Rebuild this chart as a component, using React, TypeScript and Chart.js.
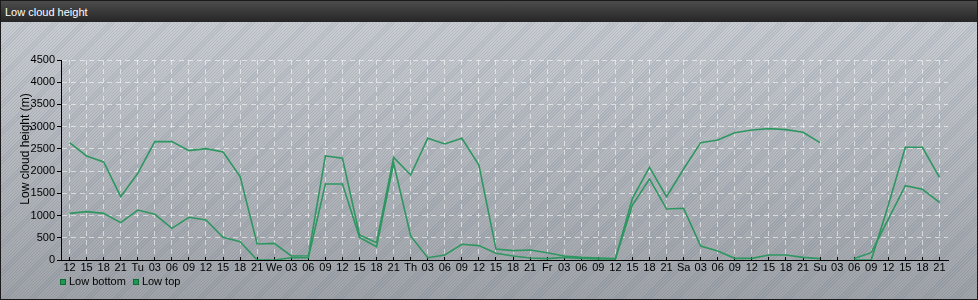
import React, { useEffect, useRef } from 'react';
import { Chart, registerables } from 'chart.js';

Chart.register(...registerables);

const labels = [
  '12', '15', '18', '21',
  'Tu', '03', '06', '09', '12', '15', '18', '21',
  'We', '03', '06', '09', '12', '15', '18', '21',
  'Th', '03', '06', '09', '12', '15', '18', '21',
  'Fr', '03', '06', '09', '12', '15', '18', '21',
  'Sa', '03', '06', '09', '12', '15', '18', '21',
  'Su', '03', '06', '09', '12', '15', '18', '21',
];

const lowBottom: (number | null)[] = [
  1050, 1088, 1050, 840,
  1125, 1028, 713, 960, 900, 510, 413, 0,
  0, 52, 52, 1710, 1710, 510, 300, 2175,
  540, 52, 112, 353, 323, 150, 90, 45,
  30, 60, 37, 22, 25, 1238, 1823, 1148,
  1163, 315, 203, 37, 37, 112, 112, 60,
  30, null, 35, 165, 920, 1673, 1590, 1297,
];

const lowTop: (number | null)[] = [
  2640, 2340, 2205, 1425,
  1950, 2663, 2663, 2460, 2505, 2430, 1875, 360,
  375, 90, 95, 2340, 2288, 563, 390, 2310,
  1913, 2738, 2610, 2738, 2138, 248, 210, 225,
  165, 90, 60, 45, 30, 1388, 2085, 1425,
  2048, 2640, 2700, 2865, 2925, 2955, 2933, 2873,
  2640, null, 0, 0, 1230, 2536, 2536, 1860,
];

const yMin = 0;
const yMax = 4500;
const yStep = 500;
const yTitle = 'Low cloud height (m)';

const LINE = 'rgb(46,150,96)';
const FONT = '"Liberation Sans", Arial, sans-serif';

const yTitlePlugin = {
  id: 'yTitleCentered',
  afterDraw(chart: any) {
    const ctx = chart.ctx;
    ctx.save();
    ctx.translate(26, chart.height / 2 - 1);
    ctx.rotate(-Math.PI / 2);
    ctx.font = '12px ' + FONT;
    ctx.fillStyle = '#000';
    ctx.textAlign = 'center';
    ctx.textBaseline = 'middle';
    ctx.fillText(yTitle, 0, 0);
    ctx.restore();
  },
};

export default function App() {
  const ref = useRef<HTMLCanvasElement>(null);

  useEffect(() => {
    const canvas = ref.current!;
    const chart = new Chart(canvas, {
      type: 'line',
      data: {
        labels,
        datasets: [
          {
            label: 'Low bottom',
            data: lowBottom,
            borderColor: LINE,
            backgroundColor: LINE,
            borderWidth: 1.6,
            pointRadius: 0,
            tension: 0,
            spanGaps: false,
          },
          {
            label: 'Low top',
            data: lowTop,
            borderColor: LINE,
            backgroundColor: LINE,
            borderWidth: 1.6,
            pointRadius: 0,
            tension: 0,
            spanGaps: false,
          },
        ],
      },
      options: {
        animation: false,
        responsive: false,
        maintainAspectRatio: false,
        layout: { padding: { top: 38, right: 30, left: 0, bottom: 0 } },
        plugins: {
          legend: { display: false },
          tooltip: { enabled: false },
        },
        scales: {
          x: {
            offset: true,
            grid: {
              offset: false,
              color: 'rgba(255,255,255,0.55)',
              lineWidth: 1,
              tickColor: '#000',
              tickLength: -3,
              tickBorderDash: [],
            },
            border: { color: '#000', width: 1, dash: [5, 4] },
            ticks: {
              autoSkip: false,
              maxRotation: 0,
              minRotation: 0,
              color: '#000',
              padding: 4,
              font: { family: FONT, size: 11 },
            },
            afterFit: (s: any) => {
              s.height = 18;
            },
          },
          y: {
            min: yMin,
            max: yMax,
            ticks: {
              stepSize: yStep,
              color: '#000',
              padding: 2,
              font: { family: FONT, size: 11 },
              callback: (v: any) => String(v),
            },
            grid: {
              color: 'rgba(255,255,255,0.55)',
              lineWidth: 1,
              tickColor: '#000',
              tickLength: 4,
              tickBorderDash: [],
            },
            border: { color: '#000', width: 1, dash: [5, 4] },
            title: { display: false },
            afterFit: (s: any) => {
              s.width = 61;
            },
          },
        },
      },
      plugins: [yTitlePlugin],
    });
    return () => chart.destroy();
  }, []);

  return (
    <div
      style={{
        position: 'absolute',
        left: 0,
        top: 0,
        width: 978,
        height: 300,
        overflow: 'hidden',
        fontFamily: FONT,
        background:
          'repeating-linear-gradient(135deg, rgba(60,80,115,0.14) 0px, rgba(60,80,115,0.14) 1px, rgba(0,0,0,0) 1px, rgba(0,0,0,0) 2.2px), linear-gradient(#cdd1d5, #a0a4a8)',
      }}
    >
      <div
        style={{
          position: 'absolute',
          left: 0,
          top: 0,
          width: 978,
          height: 22,
          boxSizing: 'border-box',
          paddingLeft: 5,
          paddingTop: 1,
          lineHeight: '22px',
          fontSize: 11,
          color: '#fff',
          background: 'linear-gradient(#4e4e4e, #262626)',
        }}
      >
        Low cloud height
      </div>
      <canvas
        ref={ref}
        width={978}
        height={256}
        style={{ position: 'absolute', left: 0, top: 22, width: 978, height: 256, display: 'block' }}
      />
      <div
        style={{
          position: 'absolute',
          left: 60,
          top: 275,
          display: 'flex',
          alignItems: 'center',
          fontSize: 11,
          lineHeight: '13px',
          color: '#000',
        }}
      >
        {['Low bottom', 'Low top'].map((t, i) => (
          <div key={t} style={{ display: 'flex', alignItems: 'center', marginRight: i === 0 ? 7 : 0 }}>
            <span
              style={{
                display: 'inline-block',
                width: 6,
                height: 6,
                boxSizing: 'border-box',
                background: '#1f9a52',
                border: '1px solid #106a36',
                marginRight: 3,
              }}
            />
            <span>{t}</span>
          </div>
        ))}
      </div>
      <div
        style={{
          position: 'absolute',
          left: 0,
          top: 0,
          width: 978,
          height: 300,
          boxSizing: 'border-box',
          border: '1px solid #1a1a1a',
          pointerEvents: 'none',
        }}
      />
    </div>
  );
}
